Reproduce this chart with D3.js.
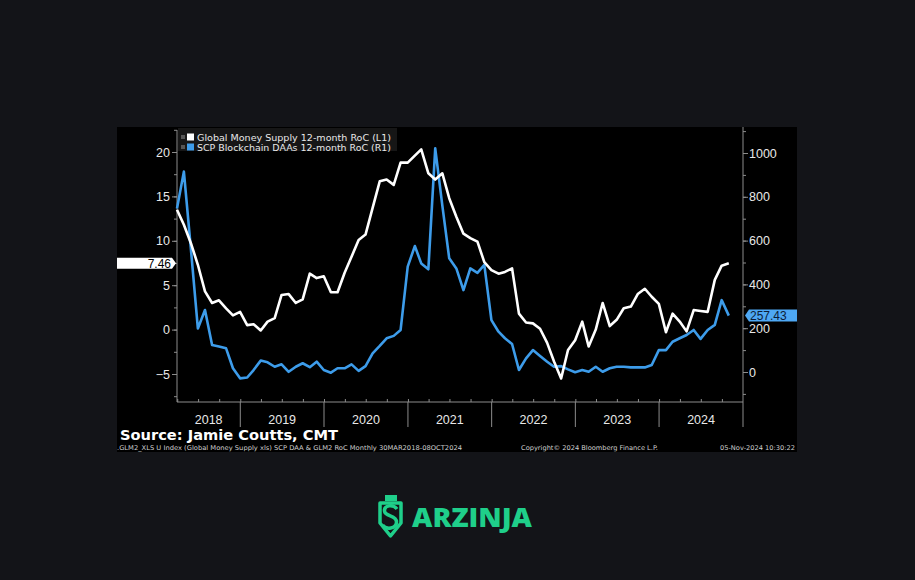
<!DOCTYPE html>
<html>
<head>
<meta charset="utf-8">
<script src="https://cdn.jsdelivr.net/npm/d3@7"></script>
<style>
  html, body { margin: 0; padding: 0; background: #131418; }
  svg { display: block; }
</style>
</head>
<body>
<svg id="chart" width="915" height="580"></svg>
<script>
// --- Data (monthly, Mar 2018 .. Oct 2024) ---
const firstMonth = new Date(2018, 2, 1);
const monthCount = 80;

// Global Money Supply 12-month RoC (left axis, %)
const moneySupply = [
  13.5, 11.8, 9.7, 7.3, 4.3, 3.0, 3.3, 2.4, 1.6, 2.0,
  0.5, 0.6, -0.1, 0.9, 1.3, 3.9, 4.0, 3.0, 3.4, 6.3,
  5.8, 6.0, 4.2, 4.2, 6.4, 8.2, 10.1, 10.7, 13.7, 16.7,
  16.9, 16.3, 18.8, 18.8, 19.6, 20.3, 17.6, 16.9, 17.6, 14.8,
  12.7, 10.8, 10.3, 9.9, 7.6, 6.7, 6.3, 6.5, 6.9, 1.8,
  0.8, 0.7, 0.1, -1.5, -3.6, -5.5, -2.3, -1.2, 0.9, -1.9,
  0.0, 3.0, 0.4, 1.1, 2.4, 2.6, 4.0, 4.6, 3.7, 2.9,
  -0.3, 1.8, 0.9, -0.2, 2.2, 2.1, 2.0, 5.6, 7.2, 7.46
];

// SCP Blockchain DAAs 12-month RoC (right axis, %)
const blockchainDAAs = [
  747, 915, 557, 199, 283, 123, 116, 108, 17, -29,
  -25, 9, 52, 44, 24, 35, 1, 24, 40, 22,
  47, 9, -3, 17, 17, 35, 5, 27, 85, 119,
  154, 165, 192, 481, 575, 496, 469, 1021, 760, 519,
  473, 374, 473, 453, 489, 237, 184, 154, 128, 9,
  62, 100, 73, 47, 24, 27, 12, -1, 9, 1,
  24, 1, 17, 24, 24, 21, 21, 21, 32, 100,
  100, 138, 154, 169, 192, 151, 192, 215, 328, 257.43
];

const leftTicks = [-5, 0, 5, 10, 15, 20];
const rightTicks = [0, 200, 400, 600, 800, 1000];
const yearLabels = ["2018", "2019", "2020", "2021", "2022", "2023", "2024"];
const seriesNames = [
  "Global Money Supply 12-month RoC (L1)",
  "SCP Blockchain DAAs 12-month RoC (R1)"
];

// month-end dates for each observation
const dates = d3.range(monthCount).map(i =>
  new Date(firstMonth.getFullYear(), firstMonth.getMonth() + i + 1, 0));

// --- Layout ---
const panel = { x: 117, y: 127, w: 680, h: 325 };
const plot = { left: 177, right: 743, top: 127, bottom: 402 };
const textColor = "#e8e8e8";
const axisColor = "#8c8c8c";
const blue = "#3d9cea";

const svg = d3.select("#chart");

svg.append("rect")
  .attr("x", panel.x).attr("y", panel.y)
  .attr("width", panel.w).attr("height", panel.h)
  .attr("fill", "#000");

// --- Scales ---
const x = d3.scaleTime()
  .domain([new Date(2018, 2, 31), new Date(2025, 0, 1)])
  .range([plot.left, plot.right]);

const yLeft = d3.scaleLinear().domain([-5, 20]).range([374, 152]);
const yRight = d3.scaleLinear().domain([0, 1000]).range([372, 153]);

const leftMinor = d3.range(-7.5, 22.6, 2.5);
const rightMinor = d3.range(-100, 1101, 100);

// --- Axes ---
const leftAxis = svg.append("g")
  .attr("transform", `translate(${plot.left},0)`)
  .call(d3.axisLeft(yLeft).tickValues(leftMinor).tickSize(3).tickFormat(""));
leftAxis.append("g")
  .call(d3.axisLeft(yLeft).tickValues(leftTicks).tickSize(5).tickPadding(2)
    .tickFormat(d3.format("d")));

const rightAxis = svg.append("g")
  .attr("transform", `translate(${plot.right},0)`)
  .call(d3.axisRight(yRight).tickValues(rightMinor).tickSize(3).tickFormat(""));
rightAxis.append("g")
  .call(d3.axisRight(yRight).tickValues(rightTicks).tickSize(5).tickPadding(1)
    .tickFormat(d3.format("d")));

const bottomAxis = svg.append("g")
  .attr("transform", `translate(0,${plot.bottom})`)
  .call(d3.axisBottom(x)
    .tickValues(d3.timeMonth.range(new Date(2018, 3, 1), new Date(2025, 0, 1), 3))
    .tickSize(-3).tickFormat(""));

[leftAxis, rightAxis, bottomAxis].forEach(g => {
  g.selectAll(".domain").remove();
  g.selectAll("line").attr("stroke", axisColor);
  g.selectAll("text")
    .attr("fill", textColor)
    .style("font-family", "'Liberation Sans', Arial, sans-serif")
    .style("font-size", "12.5px");
});

// axis lines
svg.append("line").attr("x1", plot.left).attr("x2", plot.left)
  .attr("y1", plot.top + 3).attr("y2", plot.bottom).attr("stroke", axisColor);
svg.append("line").attr("x1", plot.right).attr("x2", plot.right)
  .attr("y1", plot.top).attr("y2", plot.bottom).attr("stroke", axisColor);
svg.append("line").attr("x1", plot.left).attr("x2", plot.right)
  .attr("y1", plot.bottom).attr("y2", plot.bottom).attr("stroke", axisColor);

// year separators and labels
const yearStarts = d3.timeYear.range(new Date(2019, 0, 1), new Date(2025, 0, 2));
svg.append("g").selectAll("line")
  .data(yearStarts)
  .join("line")
  .attr("x1", d => x(d)).attr("x2", d => x(d))
  .attr("y1", plot.bottom).attr("y2", plot.bottom + 25)
  .attr("stroke", axisColor);

svg.append("g").selectAll("text")
  .data(yearLabels)
  .join("text")
  .attr("x", d => {
    const a = Math.max(x(new Date(+d, 0, 1)), plot.left);
    const b = Math.min(x(new Date(+d + 1, 0, 1)), plot.right);
    return (a + b) / 2;
  })
  .attr("y", 424)
  .attr("text-anchor", "middle")
  .attr("fill", textColor)
  .style("font-family", "'Liberation Sans', Arial, sans-serif")
  .style("font-size", "12.5px")
  .text(d => d);

// --- Lines ---
const lineLeft = d3.line().x((d, i) => x(dates[i])).y(d => yLeft(d));
const lineRight = d3.line().x((d, i) => x(dates[i])).y(d => yRight(d));

svg.append("path")
  .datum(blockchainDAAs)
  .attr("d", lineRight)
  .attr("fill", "none")
  .attr("stroke", blue)
  .attr("stroke-width", 2.6)
  .attr("stroke-linejoin", "round");

svg.append("path")
  .datum(moneySupply)
  .attr("d", lineLeft)
  .attr("fill", "none")
  .attr("stroke", "#ffffff")
  .attr("stroke-width", 2.6)
  .attr("stroke-linejoin", "round");

// --- Last value tags ---
const lastL = moneySupply[moneySupply.length - 1];
const lastR = blockchainDAAs[blockchainDAAs.length - 1];
const tagL = yLeft(lastL), tagR = yRight(lastR);

svg.append("path")
  .attr("d", `M117,${tagL - 5.5}H172L176,${tagL}L172,${tagL + 5.5}H117Z`)
  .attr("fill", "#fff");
svg.append("text")
  .attr("x", 171).attr("y", tagL + 4.5)
  .attr("text-anchor", "end")
  .attr("fill", "#000")
  .style("font-family", "'Liberation Sans', Arial, sans-serif")
  .style("font-size", "12px")
  .text(lastL.toFixed(2));

svg.append("path")
  .attr("d", `M797,${tagR - 6}H749L745,${tagR}L749,${tagR + 6}H797Z`)
  .attr("fill", "#4ea8f4");
svg.append("text")
  .attr("x", 750).attr("y", tagR + 4.5)
  .attr("fill", "#0c1d38")
  .style("font-family", "'Liberation Sans', Arial, sans-serif")
  .style("font-size", "12px")
  .text(lastR.toFixed(2));

// --- Legend ---
const legend = svg.append("g");
legend.append("rect")
  .attr("x", 178).attr("y", 128).attr("width", 219).attr("height", 23)
  .attr("fill", "#161616");
const legendRows = legend.selectAll("g")
  .data(seriesNames)
  .join("g")
  .attr("transform", (d, i) => `translate(181,${137 + i * 10})`);
legendRows.append("rect")
  .attr("x", 0).attr("y", -2).attr("width", 4).attr("height", 4)
  .attr("fill", "#555");
legendRows.append("rect")
  .attr("x", 6).attr("y", -3.5).attr("width", 7).attr("height", 7)
  .attr("fill", (d, i) => i === 0 ? "#fff" : blue);
legendRows.append("text")
  .attr("x", 16).attr("y", 3.5)
  .attr("fill", textColor)
  .attr("textLength", 194)
  .attr("lengthAdjust", "spacingAndGlyphs")
  .style("font-family", "'DejaVu Sans', Verdana, sans-serif")
  .style("font-size", "9.5px")
  .text(d => d);

// --- Footer ---
svg.append("text")
  .attr("x", 120).attr("y", 440)
  .attr("fill", "#fff")
  .attr("textLength", 218)
  .attr("lengthAdjust", "spacingAndGlyphs")
  .style("font-family", "'DejaVu Sans', Verdana, sans-serif")
  .style("font-weight", "bold")
  .style("font-size", "13.5px")
  .text("Source: Jamie Coutts, CMT");

const footerTexts = [
  { x: 117, w: 345, t: ".GLM2_XLS U Index (Global Money Supply xls) SCP DAA & GLM2 RoC  Monthly 30MAR2018-08OCT2024" },
  { x: 521, w: 137, t: "Copyright\u00a9 2024 Bloomberg Finance L.P." },
  { x: 720, w: 75, t: "05-Nov-2024 10:30:22" }
];
svg.append("g").selectAll("text")
  .data(footerTexts)
  .join("text")
  .attr("x", d => d.x).attr("y", 450)
  .attr("fill", "#cfcfcf")
  .attr("textLength", d => d.w)
  .attr("lengthAdjust", "spacingAndGlyphs")
  .style("font-family", "'DejaVu Sans', Verdana, sans-serif")
  .style("font-size", "6.5px")
  .text(d => d.t);

// --- Logo ---
const green = "#1fcf8a";
const logo = svg.append("g");
logo.append("rect").attr("x", 385).attr("y", 495).attr("width", 12).attr("height", 6)
  .attr("fill", green);
logo.append("path")
  .attr("d", "M380,503H401V523L390.5,536L380,523Z")
  .attr("fill", "none").attr("stroke", green).attr("stroke-width", 3.5)
  .attr("stroke-linejoin", "round");
logo.append("path")
  .attr("d", "M397,509C393,504 384,505 384.5,511C385,517 396.5,515 396.5,522C396.5,529 386,530 382.5,525")
  .attr("fill", "none").attr("stroke", green).attr("stroke-width", 3.5);
logo.append("text")
  .attr("x", 412).attr("y", 527)
  .attr("fill", green)
  .attr("textLength", 120)
  .attr("lengthAdjust", "spacingAndGlyphs")
  .style("font-family", "'Open Sans', 'DejaVu Sans', sans-serif")
  .style("font-weight", "800")
  .style("font-size", "26px")
  .text("ARZINJA");
</script>
</body>
</html>
